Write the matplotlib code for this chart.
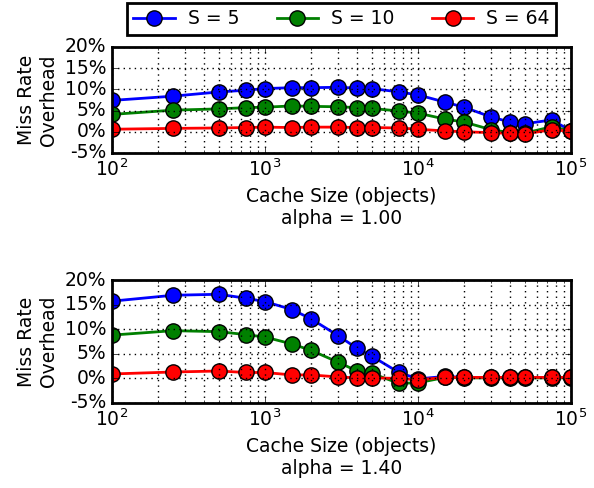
import matplotlib
matplotlib.use('Agg')
import matplotlib.pyplot as plt
from matplotlib.ticker import FuncFormatter, MultipleLocator

plt.style.use('classic')

cache_sizes = [100, 250, 500, 750, 1000, 1500, 2000, 3000, 4000, 5000,
               7500, 10000, 15000, 20000, 30000, 40000, 50000, 75000, 100000]

# miss rate overhead in percent, alpha = 1.00
a100_s5 = [7.4, 8.4, 9.4, 9.8, 10.2, 10.4, 10.4, 10.5, 10.3, 10.2,
           9.4, 8.7, 7.0, 5.8, 3.5, 2.3, 1.9, 2.8, 0.2]
a100_s10 = [4.1, 5.1, 5.4, 5.7, 5.8, 6.1, 6.0, 5.9, 5.7, 5.5,
            4.9, 4.4, 3.0, 2.3, 0.5, -0.2, -0.3, 1.2, 0.2]
a100_s64 = [0.6, 0.8, 0.9, 1.0, 1.1, 1.0, 1.1, 1.1, 1.0, 1.0,
            0.9, 0.6, 0.2, 0.0, -0.2, -0.4, -0.5, 0.5, 0.1]

# alpha = 1.40
a140_s5 = [15.7, 16.9, 17.1, 16.3, 15.6, 14.0, 12.1, 8.7, 6.1, 4.5,
           1.2, -0.1, 0.4, 0.2, 0.2, 0.2, 0.2, 0.2, 0.2]
a140_s10 = [8.8, 9.7, 9.5, 8.9, 8.4, 7.0, 5.7, 3.3, 1.5, 1.0,
            -1.0, -0.9, 0.2, 0.1, 0.1, 0.1, 0.1, 0.1, 0.1]
a140_s64 = [0.9, 1.3, 1.5, 1.2, 1.2, 0.7, 0.7, 0.3, 0.1, 0.1,
            0.0, -0.3, 0.2, 0.2, 0.2, 0.2, 0.2, 0.2, 0.2]

labels = ['S = 5', 'S = 10', 'S = 64']
colors = ['b', 'g', 'r']
alphas = ['1.00', '1.40']
panels = [[a100_s5, a100_s10, a100_s64], [a140_s5, a140_s10, a140_s64]]

fs = 13.5
fig = plt.figure(figsize=(5.94, 4.88), dpi=100, facecolor='w')
positions = [[0.1886, 0.6865, 0.7727, 0.2172],
             [0.1886, 0.1742, 0.7727, 0.2520]]

handles = []
for pos, series, alpha in zip(positions, panels, alphas):
    ax = fig.add_axes(pos)
    for vals, lab, c in zip(series, labels, colors):
        h, = ax.plot(cache_sizes, vals, '-o', color=c, label=lab, lw=2,
                     markersize=11, markeredgecolor='k', markeredgewidth=1)
        if alpha == '1.00':
            handles.append(h)
    ax.set_xscale('log')
    ax.set_xlim(100, 100000)
    ax.set_ylim(-5, 20)
    ax.yaxis.set_major_locator(MultipleLocator(5))
    ax.yaxis.set_major_formatter(FuncFormatter(lambda v, p: '%d%%' % v))
    ax.grid(True, which='both', color='k', linestyle=':', linewidth=1)
    ax.set_ylabel('Miss Rate\nOverhead', fontsize=fs)
    ax.set_xlabel('Cache Size (objects)\nalpha = %s' % alpha, fontsize=fs)
    ax.tick_params(labelsize=fs)
    for sp in ax.spines.values():
        sp.set_linewidth(2)

leg = fig.legend(handles=handles, loc='upper center',
                 bbox_to_anchor=(0.575, 0.994), ncol=3, numpoints=1,
                 fontsize=fs, handlelength=2.2, handletextpad=0.7,
                 columnspacing=2.0, borderpad=0.35, borderaxespad=0)
leg.get_frame().set_linewidth(2)

fig.savefig('out.png', dpi=100, facecolor='w')
